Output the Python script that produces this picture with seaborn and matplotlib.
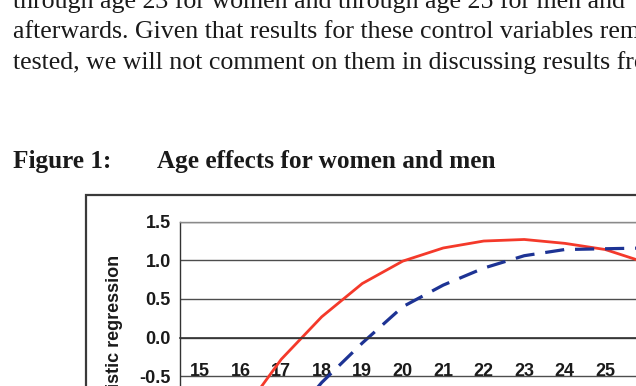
import numpy as np
import pandas as pd
import matplotlib.pyplot as plt
import seaborn as sns
from matplotlib.patches import Rectangle
from matplotlib.ticker import FormatStrFormatter, FixedLocator

# Données (effets d'âge, régression logistique)
ages = [15, 16, 17, 18, 19, 20, 21, 22, 23, 24, 25, 26]
women = [-1.80, -1.00, -0.28, 0.27, 0.70, 0.99, 1.16, 1.25, 1.27, 1.22, 1.14, 0.97]
men = [-2.90, -2.00, -1.20, -0.58, -0.07, 0.40, 0.68, 0.90, 1.06, 1.14, 1.15, 1.16]
y_ticks = [-3.0, -2.5, -2.0, -1.5, -1.0, -0.5, 0.0, 0.5, 1.0, 1.5]

body_lines = [
    "through age 23 for women and through age 25 for men and",
    "afterwards. Given that results for these control variables remain",
    "tested, we will not comment on them in discussing results from",
]
fig_label = "Figure 1:"
fig_title = "Age effects for women and men"
y_label = "Coefficient from logistic regression"

df = pd.DataFrame({
    "age": ages * 2,
    "effect": women + men,
    "sex": ["Women"] * len(ages) + ["Men"] * len(ages),
})

sns.set_style("white")
plt.rcParams["axes.unicode_minus"] = False
plt.rcParams["font.family"] = ["Liberation Sans", "DejaVu Sans"]
plt.rcParams["font.weight"] = "bold"

W, H = 636, 386
fig = plt.figure(figsize=(W / 100, H / 100), dpi=100)

# Axe placé en pixels : il dépasse à droite et en bas (page recadrée)
px_cat = 40.5
px_unit = 77.3
left, top = 180, 221.7
width = len(ages) * px_cat
height = (max(y_ticks) - min(y_ticks)) * px_unit
ax = fig.add_axes([left / W, 1 - (top + height) / H, width / W, height / H])

sns.lineplot(
    data=df, x="age", y="effect", hue="sex", style="sex", size="sex",
    palette={"Women": "#f4392a", "Men": "#1d3394"},
    dashes={"Women": "", "Men": (6, 3.4)},
    sizes={"Women": 2.0, "Men": 2.3},
    legend=False, ax=ax,
)

ax.set_xlim(ages[0] - 0.5, ages[-1] + 0.5)
ax.set_ylim(min(y_ticks), max(y_ticks))
ax.set_xlabel("")
ax.set_ylabel("")

# Axe des catégories : graduations entre les âges, étiquettes au centre
ax.xaxis.set_major_locator(FixedLocator(np.arange(ages[0] - 0.5, ages[-1] + 1)))
ax.xaxis.set_minor_locator(FixedLocator(ages))
ax.xaxis.set_minor_formatter(FormatStrFormatter("%d"))
ax.tick_params(axis="x", which="major", direction="out", length=5, width=1,
               color="#333333", labelbottom=False)
ax.tick_params(axis="x", which="minor", length=0, pad=18.0, labelsize=13,
               labelcolor="#1a1a1a")

ax.set_yticks(y_ticks)
ax.yaxis.set_major_formatter(FormatStrFormatter("%.1f"))
ax.tick_params(axis="y", direction="out", length=4, width=1, color="#333333",
               pad=2.7, labelsize=13, labelcolor="#1a1a1a")

ax.set_axisbelow(True)
ax.yaxis.grid(True, color="#4d4d4d", linewidth=1)
ax.xaxis.grid(False)

ax.spines["bottom"].set_position(("data", 0))
ax.spines["bottom"].set_color("#333333")
ax.spines["bottom"].set_linewidth(1.2)
ax.spines["left"].set_color("#333333")
ax.spines["left"].set_linewidth(1)
ax.spines["top"].set_color("#8a8a8a")
ax.spines["top"].set_linewidth(1)
ax.spines["right"].set_visible(False)

fig.text(115 / W, 1 - 255 / H, y_label, rotation=90, ha="center", va="top",
         fontsize=13, fontweight="bold", color="#1a1a1a")

# Cadre du graphique
fig.add_artist(Rectangle((86 / W, -1), 2, 1 - 194.5 / H + 1,
                         transform=fig.transFigure, fill=False,
                         linewidth=1.6, edgecolor="#3a3a3a"))

# Texte de la page
for i, line in enumerate(body_lines):
    fig.text(12.7 / W, 1 - (8 + 30.5 * i) / H, line, va="baseline", ha="left",
             fontsize=18.6, fontweight="normal", family="Liberation Serif",
             color="#1a1a1a")
fig.text(13.3 / W, 1 - 168.3 / H, fig_label, va="baseline", ha="left",
         fontsize=18.2, fontweight="bold", family="Liberation Serif", color="#1a1a1a")
fig.text(156.7 / W, 1 - 168.3 / H, fig_title, va="baseline", ha="left",
         fontsize=18.2, fontweight="bold", family="Liberation Serif", color="#1a1a1a")

fig.savefig("out.png", dpi=100)
plt.close(fig)
